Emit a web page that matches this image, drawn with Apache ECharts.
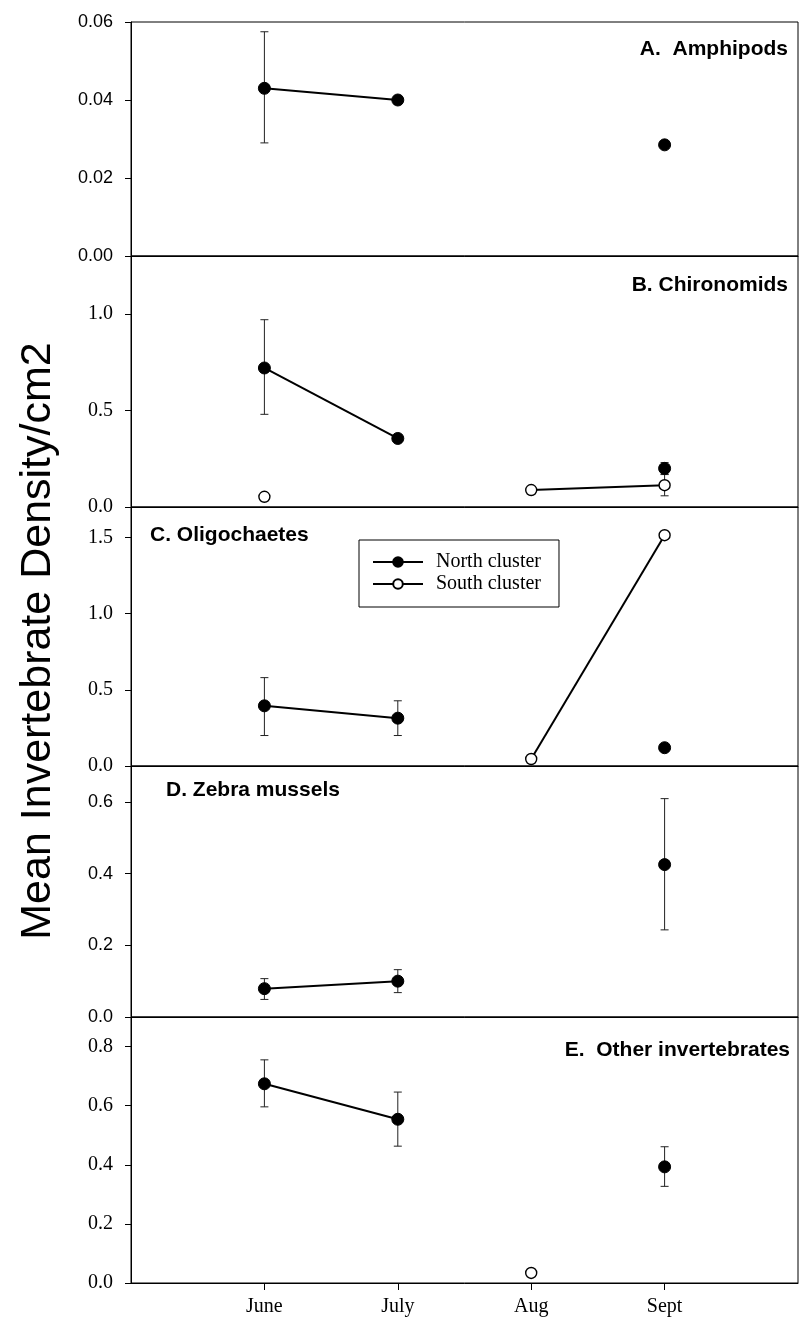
<!DOCTYPE html>
<html>
<head>
<meta charset="utf-8">
<script src="https://cdn.jsdelivr.net/npm/echarts@6/dist/echarts.min.js"></script>
<style>
  html, body { margin: 0; padding: 0; background: #fff; }
  #chart { width: 803px; height: 1324px; }
</style>
</head>
<body>
<div id="chart"></div>
<script>
// Sampling months (x positions 1..4)
const months = ['June', 'July', 'Aug', 'Sept'];

// A. Amphipods
const amphNorth = [0.043, 0.040, null, 0.0285];
const amphSouth = [null, null, null, null];
const amphNorthErr = [[0.029, 0.0575], null, null, null];
const amphSouthErr = [null, null, null, null];
const amphTicks = [0, 0.02, 0.04, 0.06];

// B. Chironomids
const chirNorth = [0.72, 0.355, null, 0.20];
const chirSouth = [0.053, null, 0.088, 0.113];
const chirNorthErr = [[0.48, 0.97], null, null, [0.17, 0.23]];
const chirSouthErr = [null, null, null, [0.058, 0.168]];
const chirTicks = [0, 0.5, 1.0];

// C. Oligochaetes
const oligNorth = [0.395, 0.314, null, 0.12];
const oligSouth = [null, null, 0.046, 1.515];
const oligNorthErr = [[0.20, 0.58], [0.20, 0.428], null, null];
const oligSouthErr = [null, null, null, null];
const oligTicks = [0, 0.5, 1.0, 1.5];

// D. Zebra mussels
const zebraNorth = [0.079, 0.10, null, 0.425];
const zebraSouth = [null, null, null, null];
const zebraNorthErr = [[0.049, 0.107], [0.068, 0.132], null, [0.243, 0.609]];
const zebraSouthErr = [null, null, null, null];
const zebraTicks = [0, 0.2, 0.4, 0.6];

// E. Other invertebrates
const otherNorth = [0.674, 0.554, null, 0.393];
const otherSouth = [null, null, 0.034, null];
const otherNorthErr = [[0.596, 0.755], [0.463, 0.646], null, [0.327, 0.461]];
const otherSouthErr = [null, null, null, null];
const otherTicks = [0, 0.2, 0.4, 0.6, 0.8];

const panelTitles = ['A.  Amphipods', 'B. Chironomids', 'C. Oligochaetes', 'D. Zebra mussels', 'E.  Other invertebrates'];
const yAxisTitle = 'Mean Invertebrate Density/cm2';
const seriesNames = ['North cluster', 'South cluster'];

const SANS = '"Liberation Sans", Arial, sans-serif';
const SERIF = '"Liberation Serif", "Times New Roman", serif';

// Panel layout: stacked grids sharing one month axis range
const panels = [
  { north: amphNorth, south: amphSouth, nErr: amphNorthErr, sErr: amphSouthErr, ticks: amphTicks, max: 0.06, dec: 2, font: SANS, fsize: 18,
    top: 22, height: 234, title: { x: 788, y: 49, align: 'right' } },
  { north: chirNorth, south: chirSouth, nErr: chirNorthErr, sErr: chirSouthErr, ticks: chirTicks, max: 1.3, dec: 1, font: SERIF, fsize: 20,
    top: 256, height: 251, title: { x: 788, y: 285, align: 'right' } },
  { north: oligNorth, south: oligSouth, nErr: oligNorthErr, sErr: oligSouthErr, ticks: oligTicks, max: 1.7, dec: 1, font: SERIF, fsize: 20,
    top: 507, height: 259, title: { x: 150, y: 535, align: 'left' } },
  { north: zebraNorth, south: zebraSouth, nErr: zebraNorthErr, sErr: zebraSouthErr, ticks: zebraTicks, max: 0.7, dec: 1, font: SANS, fsize: 18,
    top: 766, height: 251, title: { x: 166, y: 790, align: 'left' } },
  { north: otherNorth, south: otherSouth, nErr: otherNorthErr, sErr: otherSouthErr, ticks: otherTicks, max: 0.9, dec: 1, font: SERIF, fsize: 20,
    top: 1017, height: 266, title: { x: 790, y: 1050, align: 'right' } }
];

const toPoints = vals => vals.map((v, i) => [i + 1, v == null ? '-' : v]);
const toErr = errs => errs.map((e, i) => e ? [i + 1, e[0], e[1]] : null).filter(Boolean);

function renderErrorBar(params, api) {
  const x = api.value(0);
  const lo = api.coord([x, api.value(1)]);
  const hi = api.coord([x, api.value(2)]);
  const w = 4;
  const style = { stroke: '#222', lineWidth: 1 };
  return {
    type: 'group',
    children: [
      { type: 'line', shape: { x1: lo[0], y1: lo[1], x2: hi[0], y2: hi[1] }, style },
      { type: 'line', shape: { x1: lo[0] - w, y1: lo[1], x2: lo[0] + w, y2: lo[1] }, style },
      { type: 'line', shape: { x1: hi[0] - w, y1: hi[1], x2: hi[0] + w, y2: hi[1] }, style }
    ]
  };
}

const grid = [], xAxis = [], yAxis = [], series = [], graphic = [];

panels.forEach((p, i) => {
  const last = i === panels.length - 1;
  grid.push({ left: 131, right: 5, top: p.top, height: p.height, show: true,
    borderColor: '#000', borderWidth: 1, backgroundColor: 'transparent' });
  xAxis.push({
    gridIndex: i, type: 'value', min: 0, max: 5, interval: 1,
    axisLine: { show: true, onZero: false, lineStyle: { color: '#000', width: 1 } },
    axisTick: { show: last, length: 7, customValues: [1, 2, 3, 4], lineStyle: { color: '#000' } },
    axisLabel: { show: last, customValues: [1, 2, 3, 4], margin: 14,
      formatter: v => months[v - 1] || '', fontFamily: SERIF, fontSize: 20, color: '#000' },
    splitLine: { show: false }
  });
  yAxis.push({
    gridIndex: i, type: 'value', min: 0, max: p.max, interval: p.ticks[1] - p.ticks[0],
    axisLine: { show: true, lineStyle: { color: '#000', width: 1 } },
    axisTick: { show: true, length: 6, customValues: p.ticks, lineStyle: { color: '#000' } },
    axisLabel: { customValues: p.ticks, margin: 18, fontFamily: p.font, fontSize: p.fsize, color: '#000',
      formatter: v => p.ticks.some(t => Math.abs(t - v) < 1e-9) ? v.toFixed(p.dec) : '' },
    splitLine: { show: false }
  });

  [[p.nErr, 0], [p.sErr, 1]].forEach(([errs, k]) => {
    series.push({
      type: 'custom', name: seriesNames[k] + ' SE', xAxisIndex: i, yAxisIndex: i, z: 1,
      renderItem: renderErrorBar, encode: { x: 0, y: [1, 2] }, data: toErr(errs), silent: true
    });
  });

  series.push({
    type: 'line', name: seriesNames[0], xAxisIndex: i, yAxisIndex: i, z: 3,
    data: toPoints(p.north), connectNulls: false,
    symbol: 'circle', symbolSize: 12, showSymbol: true,
    lineStyle: { color: '#000', width: 2 },
    itemStyle: { color: '#000', borderColor: '#000', borderWidth: 1 }
  });
  series.push({
    type: 'line', name: seriesNames[1], xAxisIndex: i, yAxisIndex: i, z: 3,
    data: toPoints(p.south), connectNulls: false,
    symbol: 'circle', symbolSize: 11, showSymbol: true,
    lineStyle: { color: '#000', width: 2 },
    itemStyle: { color: '#fff', borderColor: '#000', borderWidth: 1.4 }
  });

  graphic.push({
    type: 'text', x: p.title.x, y: p.title.y, z: 10,
    style: { text: panelTitles[i], fill: '#000', fontFamily: SANS, fontWeight: 'bold', fontSize: 21,
      textAlign: p.title.align, textVerticalAlign: 'middle' }
  });
});

graphic.push({
  type: 'text', x: 38, y: 641, rotation: Math.PI / 2, z: 10,
  style: { text: yAxisTitle, fill: '#000', fontFamily: SANS, fontSize: 43,
    textAlign: 'center', textVerticalAlign: 'middle' }
});

const chart = echarts.init(document.getElementById('chart'), null, { renderer: 'canvas' });
chart.setOption({
  animation: false,
  backgroundColor: '#fff',
  grid, xAxis, yAxis, series, graphic,
  legend: {
    data: seriesNames, orient: 'vertical', left: 359, top: 540,
    itemWidth: 50, itemHeight: 12, itemGap: 2,
    padding: [12, 18, 13, 13],
    borderColor: '#000', borderWidth: 1, backgroundColor: '#fff',
    selectedMode: false,
    textStyle: { fontFamily: SERIF, fontSize: 20, color: '#000', padding: [0, 0, 0, 8] }
  }
});
</script>
</body>
</html>
